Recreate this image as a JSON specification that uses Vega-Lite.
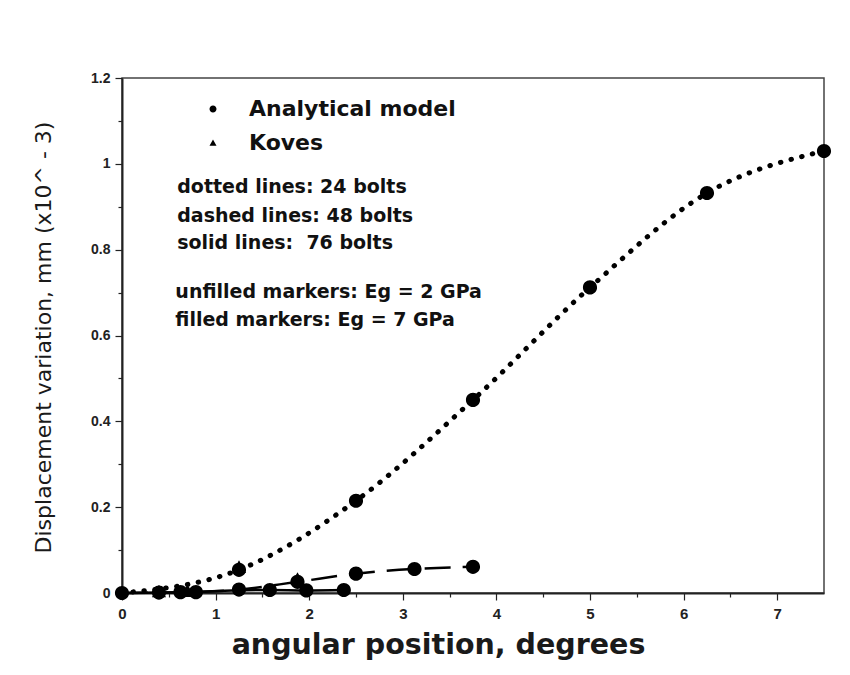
{
  "$schema": "https://vega.github.io/schema/vega-lite/v6.json",
  "width": 702,
  "height": 515,
  "autosize": {"type": "none"},
  "padding": {"left": 122, "top": 78, "right": 26, "bottom": 82},
  "background": "white",
  "config": {
    "view": {"stroke": "#444", "strokeWidth": 1.5},
    "font": "Liberation Sans"
  },
  "datasets": {
    "lines": [
      {"bolts": 24, "x": 0, "y": 0},
      {"bolts": 24, "x": 1.25, "y": 0.054},
      {"bolts": 24, "x": 2.5, "y": 0.215},
      {"bolts": 24, "x": 3.75, "y": 0.45},
      {"bolts": 24, "x": 5, "y": 0.712},
      {"bolts": 24, "x": 6.25, "y": 0.932},
      {"bolts": 24, "x": 7.5, "y": 1.03},
      {"bolts": 48, "x": 0, "y": 0},
      {"bolts": 48, "x": 0.625, "y": 0.002},
      {"bolts": 48, "x": 1.25, "y": 0.008},
      {"bolts": 48, "x": 1.875, "y": 0.026},
      {"bolts": 48, "x": 2.5, "y": 0.045},
      {"bolts": 48, "x": 3.125, "y": 0.056},
      {"bolts": 48, "x": 3.75, "y": 0.061},
      {"bolts": 76, "x": 0, "y": 0},
      {"bolts": 76, "x": 0.395, "y": 0.001},
      {"bolts": 76, "x": 0.79, "y": 0.002},
      {"bolts": 76, "x": 1.18, "y": 0.006},
      {"bolts": 76, "x": 1.58, "y": 0.007},
      {"bolts": 76, "x": 1.97, "y": 0.006},
      {"bolts": 76, "x": 2.37, "y": 0.007}
    ],
    "markers": [
      {"model": "Analytical model", "x": 0, "y": 0},
      {"model": "Analytical model", "x": 1.25, "y": 0.054},
      {"model": "Analytical model", "x": 2.5, "y": 0.215},
      {"model": "Analytical model", "x": 3.75, "y": 0.45},
      {"model": "Analytical model", "x": 5, "y": 0.712},
      {"model": "Analytical model", "x": 6.25, "y": 0.932},
      {"model": "Analytical model", "x": 7.5, "y": 1.03},
      {"model": "Analytical model", "x": 0.625, "y": 0.002},
      {"model": "Analytical model", "x": 1.25, "y": 0.008},
      {"model": "Analytical model", "x": 1.875, "y": 0.026},
      {"model": "Analytical model", "x": 2.5, "y": 0.045},
      {"model": "Analytical model", "x": 3.125, "y": 0.056},
      {"model": "Analytical model", "x": 3.75, "y": 0.061},
      {"model": "Analytical model", "x": 0.395, "y": 0.001},
      {"model": "Analytical model", "x": 0.79, "y": 0.002},
      {"model": "Analytical model", "x": 1.58, "y": 0.007},
      {"model": "Analytical model", "x": 1.97, "y": 0.006},
      {"model": "Analytical model", "x": 2.37, "y": 0.007},
      {"model": "Koves", "x": 0.395, "y": 0.003},
      {"model": "Koves", "x": 1.25, "y": 0.06},
      {"model": "Koves", "x": 1.875, "y": 0.032},
      {"model": "Koves", "x": 0.7, "y": 0.004}
    ],
    "notes": [
      {"x": 0.59, "y": 0.946, "text": "dotted lines: 24 bolts"},
      {"x": 0.59, "y": 0.878, "text": "dashed lines: 48 bolts"},
      {"x": 0.59, "y": 0.815, "text": "solid lines:\u00a0 76 bolts"},
      {"x": 0.57, "y": 0.701, "text": "unfilled markers: Eg = 2 GPa"},
      {"x": 0.57, "y": 0.636, "text": "filled markers: Eg = 7 GPa"}
    ]
  },
  "layer": [
    {
      "data": {"name": "lines"},
      "transform": [{"filter": "datum.bolts == 24"}],
      "mark": {"type": "line", "interpolate": "monotone", "color": "black", "strokeWidth": 5, "strokeCap": "round", "strokeDash": [0.5, 10.5]},
      "encoding": {
        "x": {
          "field": "x", "type": "quantitative",
          "scale": {"domain": [0, 7.5], "nice": false, "zero": false},
          "axis": {
            "values": [0,0.25,0.5,0.75,1,1.25,1.5,1.75,2,2.25,2.5,2.75,3,3.25,3.5,3.75,4,4.25,4.5,4.75,5,5.25,5.5,5.75,6,6.25,6.5,6.75,7,7.25],
            "labelExpr": "datum.value % 1 == 0 ? format(datum.value, 'd') : ''",
            "tickSize": {"condition": {"test": "datum.value % 1 == 0", "value": 7}, "value": 4},
            "tickColor": "#222",
            "tickWidth": 1.2,
            "domainColor": "#222",
            "domainWidth": 2,
            "grid": false,
            "labelFont": "Liberation Sans",
            "labelFontWeight": "bold",
            "labelFontSize": 15,
            "labelColor": "#222",
            "labelPadding": 6,
            "labelFlush": false,
            "labelOverlap": false,
            "title": "angular position, degrees",
            "titleFont": "DejaVu Sans",
            "titleFontWeight": "bold",
            "titleFontSize": 28.5,
            "titleColor": "#1a1a1a",
            "titleX": 316,
            "titleY": 60,
            "titleAlign": "center",
            "titleBaseline": "alphabetic"
          }
        },
        "y": {
          "field": "y", "type": "quantitative",
          "scale": {"domain": [0, 1.2], "nice": false},
          "axis": {
            "values": [0,0.05,0.1,0.15,0.2,0.25,0.3,0.35,0.4,0.45,0.5,0.55,0.6,0.65,0.7,0.75,0.8,0.85,0.9,0.95,1,1.05,1.1,1.15,1.2],
            "labelExpr": "abs(datum.value*5 - round(datum.value*5)) < 0.001 ? format(datum.value, '.1~f') : ''",
            "tickSize": {"condition": {"test": "abs(datum.value*5 - round(datum.value*5)) < 0.001", "value": 7}, "value": 4},
            "tickColor": "#222",
            "tickWidth": 1.2,
            "domainColor": "#222",
            "domainWidth": 2,
            "grid": false,
            "labelFont": "Liberation Sans",
            "labelFontWeight": "bold",
            "labelFontSize": 14,
            "labelColor": "#222",
            "labelPadding": 5,
            "labelFlush": false,
            "labelOverlap": false,
            "title": "Displacement variation, mm (x10^ - 3)",
            "titleFont": "DejaVu Sans",
            "titleFontWeight": "normal",
            "titleFontSize": 22,
            "titleColor": "#1a1a1a",
            "titleAngle": -90,
            "titleX": -79,
            "titleY": 259,
            "titleAlign": "center",
            "titleBaseline": "middle"
          }
        }
      }
    },
    {
      "data": {"name": "lines"},
      "transform": [{"filter": "datum.bolts == 48"}],
      "mark": {"type": "line", "interpolate": "monotone", "color": "black", "strokeWidth": 2.5, "strokeDash": [26, 12]},
      "encoding": {
        "x": {"field": "x", "type": "quantitative"},
        "y": {"field": "y", "type": "quantitative"}
      }
    },
    {
      "data": {"name": "lines"},
      "transform": [{"filter": "datum.bolts == 76"}],
      "mark": {"type": "line", "interpolate": "monotone", "color": "black", "strokeWidth": 2.5},
      "encoding": {
        "x": {"field": "x", "type": "quantitative"},
        "y": {"field": "y", "type": "quantitative"}
      }
    },
    {
      "data": {"name": "markers"},
      "mark": {"type": "point", "filled": true, "fill": "black", "stroke": "black", "strokeWidth": 0, "opacity": 1, "size": 200},
      "encoding": {
        "x": {"field": "x", "type": "quantitative"},
        "y": {"field": "y", "type": "quantitative"},
        "shape": {
          "field": "model", "type": "nominal",
          "scale": {
            "domain": ["Analytical model", "Koves"],
            "range": [
              "M-3.5,0H-1M1,0H3.5M-1,0A1,1,0,1,1,1,0A1,1,0,1,1,-1,0Z",
              "M-4.5,0.2H4.5M0,-1L1,0.8L-1,0.8Z"
            ]
          },
          "legend": {
            "orient": "none",
            "legendX": 80,
            "legendY": 20,
            "title": null,
            "labelFont": "DejaVu Sans",
            "labelFontWeight": "bold",
            "labelFontSize": 22,
            "labelColor": "#111",
            "labelLimit": 500,
            "symbolSize": 49,
            "symbolStrokeColor": "black",
            "symbolStrokeWidth": 1.5,
            "labelOffset": 25,
            "rowPadding": 12,
            "encode": {
              "symbols": {
                "update": {
                  "stroke": {"value": "black"},
                  "strokeWidth": {"value": 1.5}
                }
              }
            }
          }
        }
      }
    },
    {
      "data": {"name": "notes"},
      "mark": {"type": "text", "align": "left", "baseline": "middle", "font": "DejaVu Sans", "fontWeight": "bold", "fontSize": 19, "color": "#111"},
      "encoding": {
        "x": {"field": "x", "type": "quantitative"},
        "y": {"field": "y", "type": "quantitative"},
        "text": {"field": "text", "type": "nominal"}
      }
    }
  ]
}
